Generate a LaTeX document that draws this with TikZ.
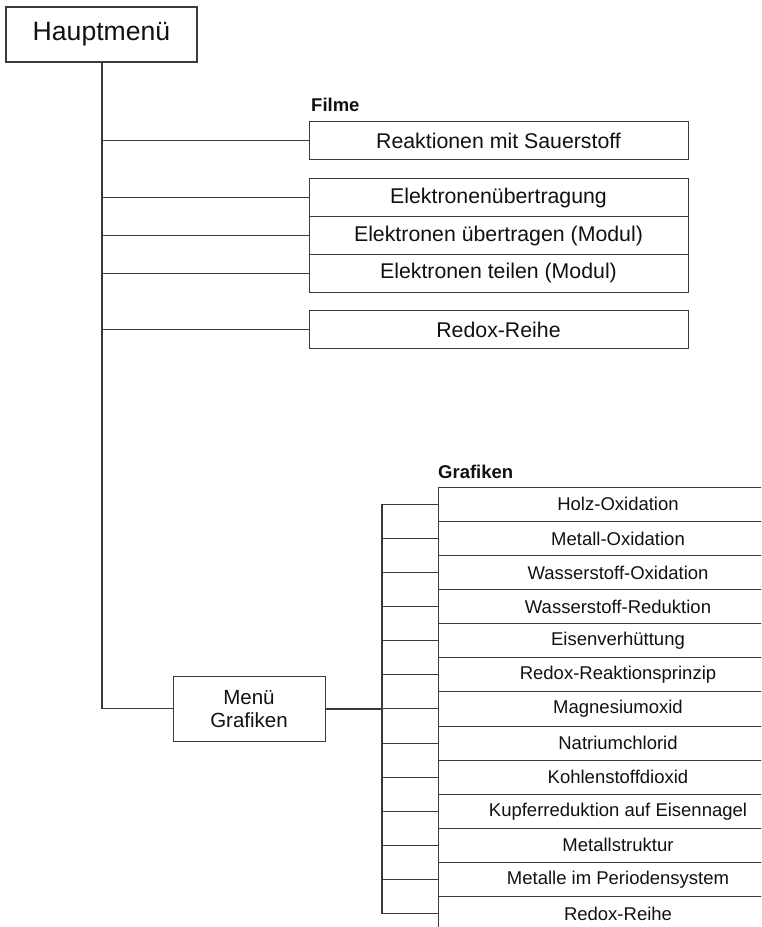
\documentclass[tikz,border=0pt]{standalone}
\usepackage{fontspec}
\setmainfont{Liberation Sans}
\usepackage{tikz}
\usetikzlibrary{positioning,calc}
\definecolor{MenuLine}{HTML}{3A3A3A}
\definecolor{MenuText}{HTML}{111111}

\begin{document}
\begin{tikzpicture}[
    x=1pt, y=-1pt,
    mainbox/.style={
      draw=MenuLine,
      line width=2pt,
      minimum width=191pt,
      minimum height=55pt,
      outer sep=0pt,
      text=MenuText,
      font=\fontsize{26.6}{30}\selectfont
    },
    filmbox/.style={
      draw=MenuLine,
      line width=1pt,
      minimum width=379pt,
      minimum height=#1,
      outer sep=0pt,
      text=MenuText,
      font=\fontsize{21.3}{25}\selectfont
    },
    grafbox/.style={
      draw=MenuLine,
      line width=1pt,
      minimum width=360pt,
      minimum height=34.1pt,
      outer sep=0pt,
      text=MenuText,
      font=\fontsize{18.5}{22}\selectfont
    },
    menubox/.style={
      draw=MenuLine,
      line width=1pt,
      minimum width=152pt,
      minimum height=65pt,
      align=center,
      outer sep=0pt,
      text=MenuText,
      font=\fontsize{20.5}{23}\selectfont
    },
    header/.style={
      anchor=west,
      inner sep=0pt,
      text=MenuText,
      font=\bfseries\fontsize{18.5}{21}\selectfont
    },
    trunk/.style={
      line width=2pt,
      color=MenuLine
    },
    branch/.style={
      line width=1pt,
      color=MenuLine
    }
  ]

  \useasboundingbox (0,0) rectangle (761,927);
  \clip (0,0) rectangle (761,927);

  % Main menu
  \node[mainbox] (haupt) at (101.5,34.5) {Hauptmenü};

  % Films
  \node[header] (filme) at (311,105) {Filme};
  \node[filmbox=38pt]   (f1) at (498.5,140.6) {Reaktionen mit Sauerstoff};
  \node[filmbox=37.7pt] (f2) at (498.5,197.8) {Elektronenübertragung};
  \node[filmbox=37.7pt] (f3) at (498.5,235.5) {Elektronen übertragen (Modul)};
  \node[filmbox=37.7pt] (f4) at (498.5,273.2) {Elektronen teilen (Modul)};
  \node[filmbox=38pt]   (f5) at (498.5,329.8) {Redox-Reihe};

  % Graphics submenu
  \node[menubox] (menu) at (249,708.7) {Menü\\Grafiken};
  \coordinate (gtrunk) at (381.7,504.4);

  \node[header] (grafiken) at (438,471.7) {Grafiken};
  \node[grafbox] (g1)  at (618,504.35) {Holz-Oxidation};
  \node[grafbox] (g2)  at (618,538.45) {Metall-Oxidation};
  \node[grafbox] (g3)  at (618,572.55) {Wasserstoff-Oxidation};
  \node[grafbox] (g4)  at (618,606.65) {Wasserstoff-Reduktion};
  \node[grafbox] (g5)  at (618,640.75) {Eisenverhüttung};
  \node[grafbox] (g6)  at (618,674.85) {Redox-Reaktionsprinzip};
  \node[grafbox] (g7)  at (618,708.95) {Magnesiumoxid};
  \node[grafbox] (g8)  at (618,743.05) {Natriumchlorid};
  \node[grafbox] (g9)  at (618,777.15) {Kohlenstoffdioxid};
  \node[grafbox] (g10) at (618,811.25) {Kupferreduktion auf Eisennagel};
  \node[grafbox] (g11) at (618,845.35) {Metallstruktur};
  \node[grafbox] (g12) at (618,879.45) {Metalle im Periodensystem};
  \node[grafbox] (g13) at (618,913.55) {Redox-Reihe};

  % Main trunk and film branches
  \draw[trunk] (haupt.south) -- (haupt.south |- menu.west);
  \draw[branch] (haupt.south |- menu.west) -- (menu.west);
  \draw[branch] (haupt.south |- f1.west) -- (f1.west);
  \draw[branch] (haupt.south |- f2.west) -- (f2.west);
  \draw[branch] (haupt.south |- f3.west) -- (f3.west);
  \draw[branch] (haupt.south |- f4.west) -- (f4.west);
  \draw[branch] (haupt.south |- f5.west) -- (f5.west);

  % Graphics trunk and branches
  \draw[trunk] (menu.east) -- (gtrunk |- menu.east);
  \draw[trunk] (gtrunk) -- (gtrunk |- g13.west);
  \foreach \g in {g1,g2,g3,g4,g5,g6,g7,g8,g9,g10,g11,g12,g13}
    \draw[branch] (gtrunk |- \g.west) -- (\g.west);

\end{tikzpicture}
\end{document}
